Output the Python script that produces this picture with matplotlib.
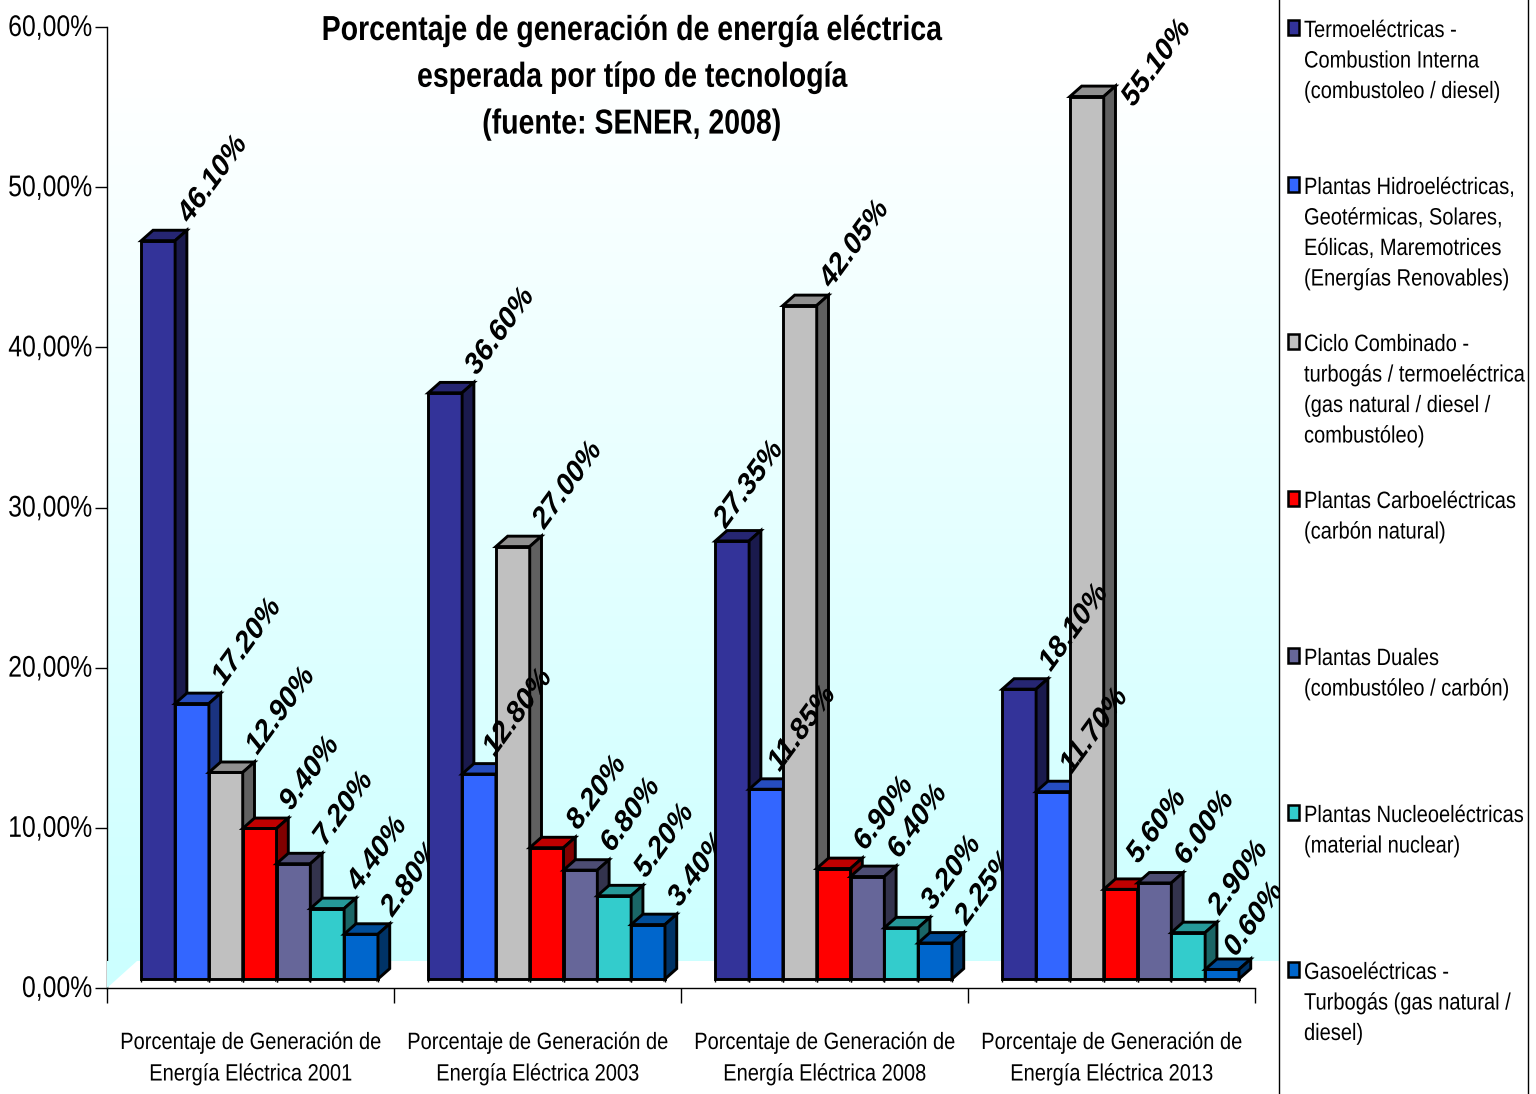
import numpy as np
import matplotlib
matplotlib.use('Agg')
import matplotlib.pyplot as plt
from matplotlib.patches import Rectangle, Polygon
from matplotlib.colors import LinearSegmentedColormap, to_rgb
from matplotlib.patheffects import AbstractPathEffect
from matplotlib.text import Text
from matplotlib.transforms import Affine2D, Bbox, ScaledTranslation

plt.rcParams['font.family'] = ['Liberation Sans', 'DejaVu Sans']

#values per technology, one number per year
termo = [46.10, 36.60, 27.35, 18.10]
hidro = [17.20, 12.80, 11.85, 11.70]
ciclo = [12.90, 27.00, 42.05, 55.10]
carbon = [9.40, 8.20, 6.90, 5.60]
duales = [7.20, 6.80, 6.40, 6.00]
nucleo = [4.40, 5.20, 3.20, 2.90]
gas = [2.80, 3.40, 2.25, 0.60]
series = [termo, hidro, ciclo, carbon, duales, nucleo, gas]

colors = ['#333399', '#3366FF', '#C0C0C0', '#FF0000', '#666699', '#33CCCC', '#0066CC']
categories = ['Porcentaje de Generación de\nEnergía Eléctrica 2001',
              'Porcentaje de Generación de\nEnergía Eléctrica 2003',
              'Porcentaje de Generación de\nEnergía Eléctrica 2008',
              'Porcentaje de Generación de\nEnergía Eléctrica 2013']
legend_labels = ['Termoeléctricas -\nCombustion Interna\n(combustoleo / diesel)',
                 'Plantas Hidroeléctricas,\nGeotérmicas, Solares,\nEólicas, Maremotrices\n(Energías Renovables)',
                 'Ciclo Combinado -\nturbogás / termoeléctrica\n(gas natural / diesel /\ncombustóleo)',
                 'Plantas Carboeléctricas\n(carbón natural)',
                 'Plantas Duales\n(combustóleo / carbón)',
                 'Plantas Nucleoeléctricas\n(material nuclear)',
                 'Gasoeléctricas -\nTurbogás (gas natural /\ndiesel)']
yticks = [0, 10, 20, 30, 40, 50, 60]
yticklabels = ['0,00%', '10,00%', '20,00%', '30,00%', '40,00%', '50,00%', '60,00%']
title = 'Porcentaje de generación de energía eléctrica\nesperada por típo de tecnología\n(fuente: SENER, 2008)'

#labels that sit away from the usual spot, (series, group): (right, up) in pixels
label_moves = {(1, 1): (-16, 0), (1, 2): (-18, 0), (1, 3): (-13, 0), (0, 2): (-38, -5),
               (2, 3): (15, -28), (3, 3): (-14, 8), (6, 3): (-18, -5)}

W, H = 1536, 1094


def fx(px):
    return px / W


def fy(py):
    return 1 - py / H


def shade(c, k):
    return tuple(v * k for v in to_rgb(c))


#no narrow font here, so squeeze the glyphs sideways around the text's anchor
class Squeeze(AbstractPathEffect):
    def __init__(self, cx, k):
        super().__init__()
        self.cx = cx
        self.k = k

    def draw_path(self, renderer, gc, tpath, affine, rgbFace=None):
        squeeze = Affine2D().translate(-self.cx, 0).scale(self.k, 1).translate(self.cx, 0)
        renderer.draw_path(gc, tpath, affine + squeeze, rgbFace)


class NarrowText(Text):
    def __init__(self, *args, k=0.85, **kwargs):
        super().__init__(*args, **kwargs)
        self.k = k

    def anchor_x(self):
        return self.get_transform().transform(self.get_position())[0]

    def draw(self, renderer):
        self.set_path_effects([Squeeze(self.anchor_x(), self.k)])
        super().draw(renderer)

    def get_window_extent(self, renderer=None, dpi=None):
        bb = super().get_window_extent(renderer, dpi)
        cx = self.anchor_x()
        return Bbox([[cx + self.k * (bb.x0 - cx), bb.y0], [cx + self.k * (bb.x1 - cx), bb.y1]])


fig = plt.figure(figsize=(W / 100, H / 100), dpi=100)


def fig_text(px, py, s, **kw):
    t = NarrowText(fx(px), fy(py), s, transform=fig.transFigure, **kw)
    fig.add_artist(t)
    return t


#back wall gradient
wall = fig.add_axes([fx(107), fy(961), fx(1279 - 107), (961 - 0) / H])
cmap = LinearSegmentedColormap.from_list('wall', [(0, '#FFFFFF'), (0.08, '#FFFFFF'), (1, '#CCFFFF')])
wall.imshow(np.linspace(0, 1, 256).reshape(-1, 1), cmap=cmap, aspect='auto')
wall.axis('off')
#bit of wall left of the floor
fig.add_artist(Polygon([(fx(107), fy(961)), (fx(137), fy(961)), (fx(107), fy(988))],
                       closed=True, facecolor='#CCFFFF', edgecolor='none'))

ax = fig.add_axes([fx(107), fy(988), 1148 / W, (988 - 27) / H])
ax.patch.set_alpha(0)
ax.set_xlim(0, 4)
ax.set_ylim(0, 60)

base = 0.56      #front of the bars sits above the axis
bar_w = 0.1178
start = 0.1195
dx = 0.041
dy = 0.65

for g in range(4):
    z = 10 + g * 10
    for s in range(7):
        x0 = g + start + s * bar_w
        x1 = x0 + bar_w
        v = series[s][g]
        top = base + v
        c = colors[s]
        ax.bar(x0, v, bar_w, bottom=base, align='edge', color=c, edgecolor='black',
               linewidth=2.1, zorder=z)
        ax.add_patch(Polygon([(x0, top), (x0 + dx, top + dy), (x1 + dx, top + dy), (x1, top)],
                             closed=True, facecolor=shade(c, 0.75), edgecolor='black',
                             linewidth=2.1, zorder=z, clip_on=False))
        ax.add_patch(Polygon([(x1, base), (x1 + dx, base + dy), (x1 + dx, top + dy), (x1, top)],
                             closed=True, facecolor=shade(c, 0.5), edgecolor='black',
                             linewidth=2.1, zorder=z, clip_on=False))
        ax.vlines([x0, x1], base - 0.18, base, color='black', lw=1, zorder=z)
        mx, my = label_moves.get((s, g), (0, 0))
        offset = ScaledTranslation((19 + mx) / 100, (13 + my) / 100, fig.dpi_scale_trans)
        t = NarrowText(x1, top, '%.2f%%' % v, k=0.93, transform=ax.transData + offset,
                       rotation=52, rotation_mode='anchor', ha='left', va='bottom',
                       fontsize=21.5, fontweight='bold', fontstyle='italic',
                       zorder=z + 5, clip_on=False)
        ax.add_artist(t)

for sp in ['top', 'right']:
    ax.spines[sp].set_visible(False)
ax.spines['left'].set_linewidth(1)
ax.spines['bottom'].set_linewidth(1)
ax.set_yticks(yticks)
ax.set_yticklabels([])
ax.tick_params(axis='y', length=8.5, width=1)
ax.set_xticks([0, 1, 2, 3, 4])
ax.set_xticklabels([])
ax.tick_params(axis='x', length=11, width=1)

for i in range(len(yticks)):
    fig_text(92, 989 - yticks[i] * 961 / 60, yticklabels[i], k=0.83, fontsize=21.5, ha='right', va='center')
for g in range(4):
    fig_text(251 + g * 287, 1032, categories[g], k=0.85, fontsize=17, ha='center', va='top', linespacing=1.56)

#legend panel
fig.add_artist(Rectangle((fx(1279), 0), fx(1528 - 1279), 1, facecolor='white', edgecolor='none', zorder=50))
fig.add_artist(plt.Line2D([fx(1279)] * 2, [0, 1], color='black', lw=1, zorder=51))
fig.add_artist(plt.Line2D([fx(1528)] * 2, [0, 1], color='black', lw=1, zorder=51))
for i in range(7):
    ly = 27 + i * 157
    fig.add_artist(Rectangle((fx(1287.5), fy(ly + 7.5)), 11 / W, 15 / H, facecolor=colors[i],
                             edgecolor='black', linewidth=1.8, zorder=52))
    fig_text(1304, ly - 7, legend_labels[i], k=0.85, fontsize=17, va='top', ha='left',
             linespacing=1.5, zorder=52)

fig_text(632, 14, title, k=0.82, fontsize=25, fontweight='bold', ha='center', va='top',
         linespacing=1.53, zorder=60)

fig.savefig('out.png', dpi=100)
